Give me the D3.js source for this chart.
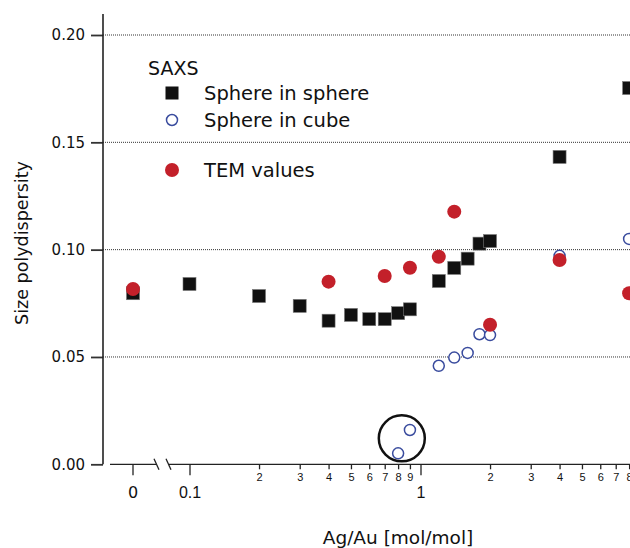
<!DOCTYPE html>
<html>
<head>
<meta charset="utf-8">
<script src="https://cdn.jsdelivr.net/npm/d3@7"></script>
<style>
  html, body { margin: 0; padding: 0; background: #fff; }
  svg { display: block; font-family: "DejaVu Sans", Verdana, sans-serif; }
</style>
</head>
<body>
<svg id="chart" width="630" height="548"></svg>
<script>
// ---- data ----
const sphereX = [0, 0.1, 0.2, 0.3, 0.4, 0.5, 0.6, 0.7, 0.8, 0.9, 1.2, 1.4, 1.6, 1.8, 2.0, 4, 8];
const sphereY = [0.0797, 0.084, 0.0784, 0.0738, 0.0669, 0.0696, 0.0676, 0.0676, 0.0704, 0.0722, 0.0854, 0.0915, 0.0958, 0.1028, 0.104, 0.1432, 0.1753];

const cubeX = [0.8, 0.9, 1.2, 1.4, 1.6, 1.8, 2.0, 4, 8];
const cubeY = [0.0051, 0.016, 0.0459, 0.0497, 0.0519, 0.0606, 0.0602, 0.0971, 0.105];

const temX = [0, 0.4, 0.7, 0.9, 1.2, 1.4, 2.0, 4, 8];
const temY = [0.0817, 0.0851, 0.0877, 0.0916, 0.0967, 0.1177, 0.065, 0.0952, 0.0797];

const yTicks = [0, 0.05, 0.10, 0.15, 0.20];
const xMajorTicks = [0.1, 1];
const xMinorTicks = [0.2, 0.3, 0.4, 0.5, 0.6, 0.7, 0.8, 0.9, 2, 3, 4, 5, 6, 7, 8];
const xMajorLabels = ["0.1", "1"];
const highlight = { x: 0.83, y: 0.0121 }; // circled pair

// ---- layout ----
const svg = d3.select("#chart");
const axisX = 103, axisTop = 14, axisBottom = 464.3;
const xLog = d3.scaleLog().domain([0.1, 10]).range([189.5, 651.5]);
const zeroGap = 56.5;
const xPos = v => v === 0 ? xLog(0.1) - zeroGap : xLog(v);
const y = d3.scaleLinear().domain([0, 0.2]).range([axisBottom, 35]);

const red = "#c3202a", blue = "#3a4c9e";

// gridlines
svg.append("g").selectAll("line").data(yTicks.filter(d => d > 0)).join("line")
  .attr("x1", axisX).attr("x2", 630)
  .attr("y1", d => y(d)).attr("y2", d => y(d))
  .attr("stroke", "#333").attr("stroke-width", 1).attr("stroke-dasharray", "1,1");

// y axis
const gy = svg.append("g").attr("transform", `translate(${axisX},0)`)
  .call(d3.axisLeft(y).tickValues(yTicks).tickFormat(d3.format(".2f")).tickSize(12).tickPadding(6).tickSizeOuter(0));
gy.select(".domain").remove();
gy.selectAll(".tick line").attr("stroke", "#333").attr("stroke-width", 1.8);
gy.selectAll(".tick text").attr("font-size", 15).attr("fill", "#111")
  .attr("font-family", "DejaVu Sans, sans-serif");
svg.append("line").attr("x1", axisX).attr("x2", axisX).attr("y1", axisTop).attr("y2", axisBottom)
  .attr("stroke", "#222").attr("stroke-width", 1.6);

// x axis line with break
const breakA = xLog(0.1) - 33, breakB = xLog(0.1) - 21;
const gx = svg.append("g");
gx.append("line").attr("x1", 110).attr("x2", breakA).attr("y1", axisBottom).attr("y2", axisBottom)
  .attr("stroke", "#222").attr("stroke-width", 1.3);
gx.append("line").attr("x1", breakB).attr("x2", 630).attr("y1", axisBottom).attr("y2", axisBottom)
  .attr("stroke", "#222").attr("stroke-width", 1.3);
[breakA, breakB].forEach(bx => {
  gx.append("line").attr("x1", bx - 2.5).attr("x2", bx + 2.5)
    .attr("y1", axisBottom - 5.5).attr("y2", axisBottom + 5.5)
    .attr("stroke", "#222").attr("stroke-width", 1.3);
});

// minor ticks
const gMinor = svg.append("g").attr("transform", `translate(0,${axisBottom})`)
  .call(d3.axisBottom(xLog).tickValues(xMinorTicks).tickFormat(d => d < 1 ? Math.round(d * 10) : d)
    .tickSize(5).tickPadding(4).tickSizeOuter(0));
gMinor.select(".domain").remove();
gMinor.selectAll(".tick line").attr("stroke", "#222").attr("stroke-width", 1.3);
gMinor.selectAll(".tick text").attr("font-size", 11).attr("fill", "#111");

// major ticks
const gMajor = svg.append("g").attr("transform", `translate(0,${axisBottom})`)
  .call(d3.axisBottom(xLog).tickValues(xMajorTicks).tickFormat((d, i) => xMajorLabels[i])
    .tickSize(11).tickPadding(11).tickSizeOuter(0));
gMajor.select(".domain").remove();
gMajor.selectAll(".tick line").attr("stroke", "#222").attr("stroke-width", 1.3);
gMajor.selectAll(".tick text").attr("font-size", 16).attr("fill", "#111");

// zero tick
const gZero = svg.append("g").attr("transform", `translate(${xPos(0)},${axisBottom})`);
gZero.append("line").attr("y2", 11).attr("stroke", "#222").attr("stroke-width", 1.3);
gZero.append("text").attr("y", 22).attr("dy", "0.71em").attr("text-anchor", "middle")
  .attr("font-size", 16).attr("fill", "#111").text("0");

// axis titles
svg.append("text").attr("x", 398).attr("y", 544).attr("text-anchor", "middle")
  .attr("font-size", 18.5).attr("fill", "#111").text("Ag/Au [mol/mol]");
svg.append("text").attr("transform", "translate(28,243) rotate(-90)").attr("text-anchor", "middle")
  .attr("font-size", 17.5).attr("fill", "#111").text("Size polydispersity");

// data points
svg.append("g").selectAll("rect").data(sphereX.map((d, i) => [d, sphereY[i]])).join("rect")
  .attr("x", d => xPos(d[0]) - 6.5).attr("y", d => y(d[1]) - 6.5)
  .attr("width", 13).attr("height", 13)
  .attr("fill", "#111").attr("stroke", "#777").attr("stroke-width", 0.6);

svg.append("g").selectAll("circle").data(cubeX.map((d, i) => [d, cubeY[i]])).join("circle")
  .attr("cx", d => xPos(d[0])).attr("cy", d => y(d[1])).attr("r", 5.5)
  .attr("fill", "#fff").attr("stroke", blue).attr("stroke-width", 1.5);

svg.append("g").selectAll("circle").data(temX.map((d, i) => [d, temY[i]])).join("circle")
  .attr("cx", d => xPos(d[0])).attr("cy", d => y(d[1])).attr("r", 7)
  .attr("fill", red);

// highlight ring
svg.append("circle").attr("cx", xPos(highlight.x)).attr("cy", y(highlight.y)).attr("r", 23)
  .attr("fill", "none").attr("stroke", "#111").attr("stroke-width", 2.5);

// legend
const lg = svg.append("g");
lg.append("text").attr("x", 148).attr("y", 75).attr("font-size", 19).attr("fill", "#111").text("SAXS");
lg.append("rect").attr("x", 165.5).attr("y", 86.5).attr("width", 13).attr("height", 13).attr("fill", "#111");
lg.append("text").attr("x", 204).attr("y", 100).attr("font-size", 19.5).attr("fill", "#111").text("Sphere in sphere");
lg.append("circle").attr("cx", 172).attr("cy", 120).attr("r", 5.5).attr("fill", "#fff").attr("stroke", blue).attr("stroke-width", 1.5);
lg.append("text").attr("x", 204).attr("y", 127).attr("font-size", 19.5).attr("fill", "#111").text("Sphere in cube");
lg.append("circle").attr("cx", 172).attr("cy", 170).attr("r", 7).attr("fill", red);
lg.append("text").attr("x", 204).attr("y", 177).attr("font-size", 19.5).attr("fill", "#111").text("TEM values");
</script>
</body>
</html>
